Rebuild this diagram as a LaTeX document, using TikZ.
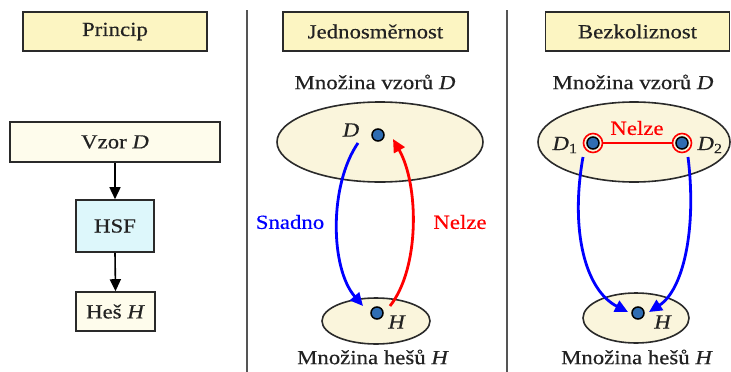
\documentclass[tikz,border=0pt]{standalone}
\usepackage{fontspec}
\setmainfont{Liberation Serif}[FakeStretch=1.14, FakeBold=0.4]
\usetikzlibrary{arrows.meta,shapes.geometric}
\definecolor{boxyel}{HTML}{FCF5C2}
\definecolor{boxlt}{HTML}{FEFCEC}
\definecolor{boxcyan}{HTML}{DDF7FB}
\definecolor{ellfill}{HTML}{FAF5DC}
\definecolor{dotblue}{HTML}{2F6DB3}
\definecolor{edge}{HTML}{2A2A2A}
\definecolor{divider}{HTML}{555555}
\definecolor{txtcol}{HTML}{222222}
\tikzset{
  x=1pt, y=-1pt,
  txt/.style={font=\fontsize{20}{22}\selectfont, inner sep=0pt, text=txtcol},
  boxnode/.style={draw=edge, line width=1.6pt, rectangle, font=\fontsize{20}{22}\selectfont, inner sep=0pt, text=txtcol},
  ell/.style={draw=edge, line width=1.6pt, fill=ellfill},
  pdot/.style={circle, draw=black, line width=1.5pt, fill=dotblue, minimum size=12pt, inner sep=0pt},
  ring/.style={circle, draw=red, line width=1.6pt, minimum size=19pt, inner sep=0pt},
  blarrow/.style={line width=1.6pt, -{Triangle[length=12pt,width=11pt]}},
  barrow/.style={blue, line width=2.8pt, -{Triangle[length=13pt,width=12pt]}},
  rarrow/.style={red, line width=2.8pt, -{Triangle[length=13pt,width=12pt]}},
}
\begin{document}
\begin{tikzpicture}
\useasboundingbox (0,0) rectangle (731,372);
\fill[white] (0,0) rectangle (731,372);
% dividers
\draw[divider, line width=1.6pt] (247,10) -- (247,372);
\draw[divider, line width=1.6pt] (507,10) -- (507,372);

% headers
\node[boxnode, fill=boxyel, minimum width=184pt, minimum height=39pt] (princip) at (115,31.5) {Princip};
\node[boxnode, fill=boxyel, minimum width=185pt, minimum height=39pt] (jedn) at (375.5,31.5) {Jednosměrnost};
\node[boxnode, fill=boxyel, minimum width=184pt, minimum height=39pt] (bezk) at (637.5,31.5) {Bezkoliznost};

% left panel
\node[boxnode, fill=boxlt, minimum width=210pt, minimum height=40pt] (vzor) at (115,142) {Vzor \textit{D}};
\node[boxnode, fill=boxcyan, minimum width=78pt, minimum height=52pt] (hsf) at (115,226) {HSF};
\node[boxnode, fill=boxlt, minimum width=79pt, minimum height=39pt] (hes) at (115.5,311.5) {Heš \textit{H}};
\draw[blarrow] (vzor.south) -- (hsf.north);
\draw[blarrow] (hsf.south) -- (hes.north);

% middle panel
\node[txt] (mvz1) at (375,82) {Množina vzorů \textit{D}};
\draw[ell] (380,142) ellipse [x radius=103, y radius=40];
\draw[ell] (376,321) ellipse [x radius=54, y radius=23];
\node[txt] (mhs1) at (373,357) {Množina hešů \textit{H}};
\node[pdot] (d) at (378,135) {};
\node[txt] (dl) at (351,130) {\textit{D}};
\node[pdot] (h) at (377,313) {};
\node[txt] (hl) at (397,322) {\textit{H}};
\coordinate (bs) at (358,143);
\coordinate (be) at (363,306);
\coordinate (rs) at (390,306);
\coordinate (re) at (393,139);
\draw[barrow] (bs) .. controls (329,185) and (330,268) .. (be);
\draw[rarrow] (rs) .. controls (420,268) and (419,185) .. (re);
\node[txt, text=blue] (snadno) at (290,222) {Snadno};
\node[txt, text=red] (nelze1) at (460,222) {Nelze};

% right panel
\node[txt] (mvz2) at (633,82) {Množina vzorů \textit{D}};
\draw[ell] (634,142) ellipse [x radius=96, y radius=40];
\draw[ell] (636,318) ellipse [x radius=53, y radius=25];
\node[txt] (mhs2) at (637,357) {Množina hešů \textit{H}};
\node[ring] (r1) at (593,143) {};
\node[ring] (r2) at (682,143) {};
\node[pdot] (d1) at (593,143) {};
\node[pdot] (d2) at (682,143) {};
\draw[red, line width=1.6pt] (r1) -- (r2);
\node[txt, text=red] (nelze2) at (637,128) {Nelze};
\node[txt] (d1l) at (565,145) {\textit{D}\textsubscript{1}};
\node[txt] (d2l) at (710,145) {\textit{D}\textsubscript{2}};
\node[pdot] (h2) at (638,313) {};
\node[txt] (h2l) at (663,322) {\textit{H}};
\coordinate (b1s) at (583,157);
\coordinate (b1e) at (628,312);
\coordinate (b2s) at (688,157);
\coordinate (b2e) at (649,312);
\draw[barrow] (b1s) .. controls (570,230) and (585,290) .. (b1e);
\draw[barrow] (b2s) .. controls (697,230) and (683,290) .. (b2e);
\end{tikzpicture}
\end{document}
